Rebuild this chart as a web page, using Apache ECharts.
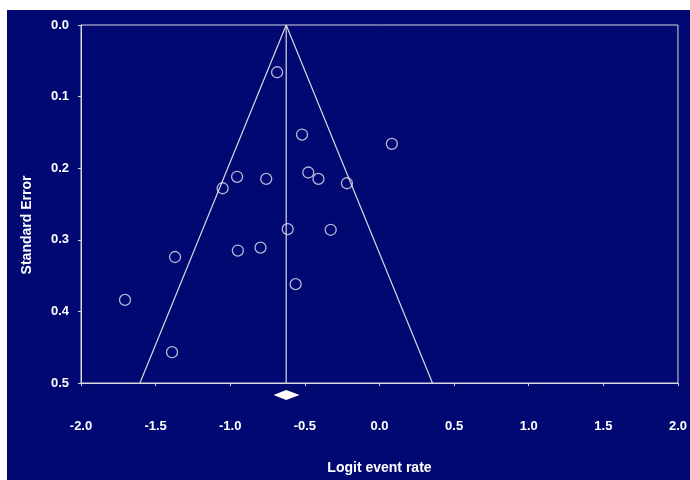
<!DOCTYPE html>
<html>
<head>
<meta charset="utf-8">
<script src="https://cdn.jsdelivr.net/npm/echarts@6/dist/echarts.min.js"></script>
<style>
    html, body { margin: 0; padding: 0; background: #fff; }
    #funnel { position: absolute; left: 7px; top: 10px; width: 683px; height: 470px; }
</style>
</head>
<body>
<div id="funnel"></div>
<script>
// logit event rate / standard error of each study
var logitRate = [-0.686, -0.519, 0.083, -0.954, -1.051, -0.759, -0.477, -0.409, -0.218,
    -0.615, -0.327, -1.370, -0.949, -0.797, -0.562, -1.705, -1.390];
var stdError = [0.066, 0.153, 0.166, 0.212, 0.228, 0.215, 0.206, 0.215, 0.221,
    0.285, 0.286, 0.324, 0.315, 0.311, 0.362, 0.384, 0.457];

// pooled estimate and its confidence interval
var pooled = -0.625;
var pooledLow = -0.71;
var pooledHigh = -0.535;
var maxSE = 0.5;

var xTicks = [-2.0, -1.5, -1.0, -0.5, 0.0, 0.5, 1.0, 1.5, 2.0];
var yTicks = [0.0, 0.1, 0.2, 0.3, 0.4, 0.5];

var fg = '#d8d8e0';
var font = 'Liberation Sans, Arial, sans-serif';

var points = [];
for (var i = 0; i < logitRate.length; i++) {
    points.push([logitRate[i], stdError[i]]);
}

var funnel = [
    [pooled - 1.96 * maxSE, maxSE],
    [pooled, 0],
    [pooled + 1.96 * maxSE, maxSE]
];

var myChart = echarts.init(document.getElementById('funnel'));

var option = {
    backgroundColor: '#010872',
    animation: false,
    grid: {
        left: 74,
        top: 15,
        right: 8,
        bottom: 97,
        show: true,
        borderColor: fg,
        borderWidth: 1
    },
    xAxis: {
        type: 'value',
        min: xTicks[0],
        max: xTicks[xTicks.length - 1],
        interval: 0.5,
        name: 'Logit event rate',
        nameLocation: 'middle',
        nameGap: 78,
        nameTextStyle: { color: '#fff', fontWeight: 'bold', fontSize: 14, fontFamily: font },
        axisLine: { onZero: false, lineStyle: { color: fg, width: 1 } },
        axisTick: { inside: false, length: 3, lineStyle: { color: fg } },
        splitLine: { show: false },
        axisLabel: {
            color: '#fff',
            fontWeight: 'bold',
            fontSize: 13,
            fontFamily: font,
            margin: 37,
            formatter: function (v) { return v.toFixed(1); }
        }
    },
    yAxis: {
        type: 'value',
        inverse: true,
        min: yTicks[0],
        max: yTicks[yTicks.length - 1],
        interval: 0.1,
        name: 'Standard Error',
        nameLocation: 'middle',
        nameGap: 47,
        nameTextStyle: {
            color: '#fff', fontWeight: 'bold', fontSize: 14, fontFamily: font,
            padding: [0, 42, 0, 0]
        },
        axisLine: { onZero: false, lineStyle: { color: fg, width: 1 } },
        axisTick: { length: 3, lineStyle: { color: fg } },
        splitLine: { show: false },
        axisLabel: {
            color: '#fff',
            fontWeight: 'bold',
            fontSize: 13,
            fontFamily: font,
            margin: 12,
            formatter: function (v) { return v.toFixed(1); }
        }
    },
    series: [{
        type: 'line',
        data: funnel,
        symbol: 'none',
        lineStyle: { color: fg, width: 1.2 },
        z: 2
    }, {
        type: 'line',
        data: [[pooled, 0], [pooled, maxSE]],
        symbol: 'none',
        lineStyle: { color: fg, width: 1.2 },
        z: 2
    }, {
        type: 'scatter',
        data: points,
        symbol: 'circle',
        symbolSize: 11,
        itemStyle: { color: 'rgba(0,0,0,0)', borderColor: '#e4e4ec', borderWidth: 1.3 },
        z: 3
    }, {
        // diamond for the pooled estimate under the axis
        type: 'custom',
        data: [[pooledLow, pooled, pooledHigh]],
        clip: false,
        renderItem: function (params, api) {
            var l = api.coord([api.value(0), maxSE]);
            var c = api.coord([api.value(1), maxSE]);
            var r = api.coord([api.value(2), maxSE]);
            var cy = c[1] + 12;
            return {
                type: 'polygon',
                shape: { points: [[l[0], cy], [c[0], cy - 5], [r[0], cy], [c[0], cy + 5]] },
                style: { fill: '#fff' }
            };
        },
        z: 3
    }]
};

myChart.setOption(option);
</script>
</body>
</html>
